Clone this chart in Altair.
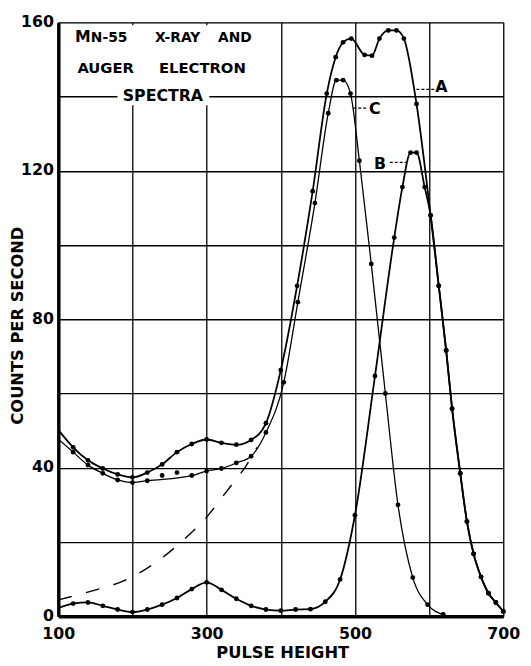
import altair as alt
import pandas as pd

# ---- data ----
# Curve A (total spectrum)
a_x = [100, 120, 140, 160, 180, 200, 220, 240, 260, 280, 300, 320, 340, 360, 380,
       400, 422, 443, 462, 474, 484, 495, 513, 523, 533, 545, 556, 566, 583, 602,
       613, 623, 631, 642, 651, 660, 670, 680, 690, 700]
a_y = [50.2, 45.5, 42.0, 39.8, 38.2, 37.4, 38.7, 40.9, 44.2, 46.4, 47.6, 46.7, 46.2, 47.5, 52.0,
       66.3, 89.0, 114.5, 140.8, 150.6, 154.6, 155.6, 151.2, 151.0, 155.6, 157.8, 157.8, 155.6, 138.0, 108.0,
       89.0, 71.6, 55.9, 38.5, 25.5, 16.8, 10.6, 6.2, 3.7, 1.3]

# Curve B
b_x = [100, 120, 140, 160, 180, 200, 220, 240, 260, 280, 300, 320, 340, 360, 380,
       400, 420, 440, 460, 480, 500, 527, 553, 564, 575, 583, 594, 602,
       613, 623, 631, 642, 651, 660, 670, 680, 690, 700]
b_y = [2.2, 3.4, 3.7, 2.8, 1.8, 1.1, 1.8, 3.1, 4.9, 7.3, 9.1, 7.1, 4.7, 2.8, 1.8,
       1.5, 1.8, 1.9, 3.9, 9.9, 27.2, 64.7, 102.0, 115.6, 124.9, 124.9, 115.6, 108.0,
       89.0, 71.6, 55.9, 38.5, 25.5, 16.8, 10.6, 6.2, 3.7, 1.3]

# Curve C
c_x = [100, 120, 140, 160, 180, 200, 220, 280, 300, 320, 340, 360, 380,
       404, 423, 446, 464, 475, 484, 494, 506, 522, 541, 558, 578, 598, 619]
c_y = [47.7, 44.2, 40.7, 38.5, 36.7, 36.0, 36.5, 37.9, 39.1, 39.8, 41.3, 43.1, 49.5,
       63.0, 84.6, 111.3, 135.5, 144.4, 144.4, 140.8, 122.7, 94.9, 60.0, 30.0, 10.4, 3.1, 0.5]

# extra measured points (no line)
e_x = [240, 260]
e_y = [37.9, 38.7]

# dashed background curve
d_x = [100, 147, 188, 228, 268, 300, 328, 354, 368]
d_y = [4.4, 6.9, 9.5, 14.0, 20.4, 26.7, 33.9, 40.8, 45.5]

x_ticks = [100, 200, 300, 400, 500, 600, 700]
y_ticks = [0, 20, 40, 60, 80, 100, 120, 140, 160]

FONT = "DejaVu Sans"


def frame(xs, ys):
    return pd.DataFrame({"ph": xs, "cps": ys})


xsc = alt.Scale(domain=[100, 700], nice=False)
ysc = alt.Scale(domain=[0, 160], nice=False)

x_axis = alt.Axis(
    values=x_ticks,
    labelExpr="datum.value % 200 == 100 ? datum.label : ''",
    grid=True, gridColor="black", gridWidth=1.3, gridOpacity=1,
    domainColor="black", domainWidth=3.5,
    ticks=False, tickSize=0,
    labelFont=FONT, labelFontSize=16, labelFontWeight="bold", labelColor="black",
    labelPadding=10, labelFlush=False, labelOverlap=False,
    titleFont=FONT, titleFontSize=16.5, titleFontWeight="bold", titleColor="black",
    titleX=227, titleY=37, titleBaseline="middle", titleAlign="center",
)
y_axis = alt.Axis(
    values=y_ticks,
    labelExpr="datum.value % 40 == 0 ? datum.label : ''",
    grid=True, gridColor="black", gridWidth=1.3, gridOpacity=1,
    domainColor="black", domainWidth=3.5,
    ticks=False, tickSize=0,
    labelFont=FONT, labelFontSize=16, labelFontWeight="bold", labelColor="black",
    labelPadding=5, labelOffset=-1, labelFlush=False, labelOverlap=False,
    titleFont=FONT, titleFontSize=16.5, titleFontWeight="bold", titleColor="black",
    titleX=-41, titleY=307, titleBaseline="middle", titleAlign="center", titleAngle=270,
)

X = alt.X("ph:Q", scale=xsc, axis=x_axis, title="PULSE  HEIGHT")
Y = alt.Y("cps:Q", scale=ysc, axis=y_axis, title="COUNTS  PER  SECOND")


def curve(xs, ys, width, dash=None):
    kw = dict(color="black", strokeWidth=width, interpolate="monotone")
    if dash:
        kw["strokeDash"] = dash
    return alt.Chart(frame(xs, ys)).mark_line(**kw).encode(x=X, y=Y)


def dots(xs, ys):
    return alt.Chart(frame(xs, ys)).mark_circle(color="black", size=24, opacity=1).encode(x=X, y=Y)


one = alt.Data(values=[{"k": 1}])


def label(text, x, y, size, align="left"):
    return alt.Chart(one).mark_text(
        text=text, font=FONT, fontSize=size, fontWeight="bold", color="black",
        align=align, baseline="alphabetic",
    ).encode(x=alt.value(x), y=alt.value(y))


def blank(x1, x2, y1, y2):
    return alt.Chart(one).mark_rect(color="white", opacity=1).encode(
        x=alt.value(x1), x2=alt.value(x2), y=alt.value(y1), y2=alt.value(y2))


def leader(x1, x2, y):
    return alt.Chart(one).mark_rule(color="black", strokeWidth=1.3, strokeDash=[3, 2]).encode(
        x=alt.value(x1), x2=alt.value(x2), y=alt.value(y))


layers = [
    curve(d_x, d_y, 1.4, dash=[14, 15]),
    curve(c_x, c_y, 1.3),
    curve(a_x, a_y, 1.8),
    curve(b_x, b_y, 1.8),
    dots(a_x[1:], a_y[1:]),
    dots(b_x[1:], b_y[1:]),
    dots(c_x[1:], c_y[1:]),
    dots(e_x, e_y),
    blank(3, 213, 3, 72),
    blank(60, 153, 65, 84),
    label("M", 17, 20, 16),
    label("N-55", 33, 20, 14),
    label("X-RAY", 121, 20, 14, "center"),
    label("AND", 179, 20, 14, "center"),
    label("AUGER", 48, 51, 15, "center"),
    label("ELECTRON", 146, 51, 15, "center"),
    label("SPECTRA", 106, 80, 16, "center"),
    leader(363, 381, 68),
    label("A", 382, 71, 16),
    leader(299, 314, 87),
    label("C", 315, 93, 16),
    leader(336, 353, 142),
    label("B", 320, 149, 16),
]

chart = alt.layer(*layers).properties(
    width=451, height=602,
    autosize=alt.AutoSizeParams(type="none"),
    padding={"left": 51, "top": 10, "right": 20, "bottom": 46},
).configure_view(stroke="black", strokeWidth=2.5).configure(background="white")

chart.save("out.html", embed_options={"renderer": "svg", "actions": False})
